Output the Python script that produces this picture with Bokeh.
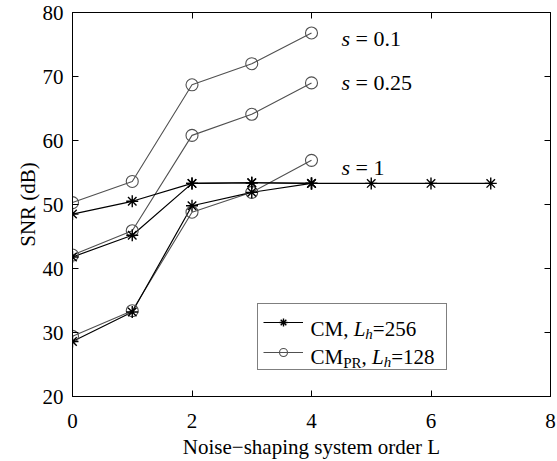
from bokeh.plotting import figure
from bokeh.models import (Range1d, FixedTicker, LinearAxis, Label, Legend, LegendItem)
from bokeh.embed import file_html
from bokeh.resources import INLINE

# ---------------- data ----------------
L_cm_long = [0, 1, 2, 3, 4, 5, 6, 7]
L_short = [0, 1, 2, 3, 4]
cm_s01 = [48.5, 50.5, 53.3, 53.4, 53.3, 53.3, 53.3, 53.3]
cm_s025 = [41.8, 45.2, 53.3, 53.4, 53.3]
cm_s1 = [28.6, 33.2, 49.8, 51.9, 53.3]
pr_s01 = [50.3, 53.6, 68.7, 72.0, 76.8]
pr_s025 = [42.1, 45.9, 60.8, 64.1, 69.0]
pr_s1 = [29.4, 33.4, 48.8, 51.9, 56.9]
x_ticks = [0, 2, 4, 6, 8]
y_ticks = [20, 30, 40, 50, 60, 70, 80]
x_title = "Noise\u2212shaping system order L"
y_title = "SNR (dB)"

FONT = "Liberation Serif"
NB = "\u00a0"
W, H = 557, 461
FL, FR, FT, FB = 72, 550, 12, 396  # frame edges in px
X0, X1, Y0, Y1 = 0, 8, 20, 80

p = figure(width=W, height=H, output_backend="svg", toolbar_location=None,
           x_range=Range1d(X0, X1), y_range=Range1d(Y0, Y1),
           min_border_left=FL, min_border_right=W - FR,
           min_border_top=FT, min_border_bottom=H - FB,
           x_axis_type=None, y_axis_type=None)
p.grid.visible = False
p.outline_line_color = "black"
p.outline_line_width = 1
p.background_fill_color = "white"
p.border_fill_color = "white"


def style_axis(ax, show_labels, standoff):
    ax.axis_line_color = "black"
    ax.axis_line_width = 1
    ax.major_tick_in = 6
    ax.major_tick_out = 0
    ax.minor_tick_line_color = None
    ax.major_tick_line_color = "black"
    ax.major_label_text_font = FONT
    if show_labels:
        ax.major_label_text_color = "black"
        ax.major_label_text_font_size = "21px"
        ax.major_label_standoff = standoff
    else:
        ax.major_label_text_color = None
        ax.major_label_text_font_size = "1px"
        ax.major_label_standoff = 0
    ax.axis_label_text_font = FONT
    ax.axis_label_text_font_size = "21px"
    ax.axis_label_text_font_style = "normal"
    ax.axis_label_text_color = "black"


xb = LinearAxis(ticker=FixedTicker(ticks=x_ticks), axis_label=x_title)
style_axis(xb, True, 17)
xb.axis_label_standoff = 4
p.add_layout(xb, "below")
yl = LinearAxis(ticker=FixedTicker(ticks=y_ticks), axis_label=y_title)
style_axis(yl, True, 9)
yl.axis_label_standoff = 0
p.add_layout(yl, "left")
xt = LinearAxis(ticker=FixedTicker(ticks=x_ticks))
style_axis(xt, False, 0)
p.add_layout(xt, "above")
yr = LinearAxis(ticker=FixedTicker(ticks=y_ticks))
style_axis(yr, False, 0)
p.add_layout(yr, "right")

STAR_C = "black"
CIRC_C = "#505050"

pr_lines, pr_marks = [], []
for ys in (pr_s01, pr_s025, pr_s1):
    pr_lines.append(p.line(L_short, ys, line_color=CIRC_C, line_width=1.1))
cm_lines, cm_marks = [], []
for xs, ys in ((L_cm_long, cm_s01), (L_short, cm_s025), (L_short, cm_s1)):
    cm_lines.append(p.line(xs, ys, line_color=STAR_C, line_width=1.2))
for ys in (pr_s01, pr_s025, pr_s1):
    pr_marks.append(p.scatter(L_short, ys, marker="circle", size=12,
                              line_color=CIRC_C, fill_alpha=0, line_width=1.1))
for xs, ys in ((L_cm_long, cm_s01), (L_short, cm_s025), (L_short, cm_s1)):
    cm_marks.append(p.scatter(xs, ys, marker="asterisk", size=12,
                              line_color=STAR_C, line_width=1.4))

legend = Legend(items=[LegendItem(label=NB, renderers=[cm_lines[0], cm_marks[0]]),
                       LegendItem(label=NB, renderers=[pr_lines[0], pr_marks[0]])],
                location=(257 - FL, FB - 370), glyph_width=40, glyph_height=20,
                label_width=130, label_height=25, spacing=5, padding=5, margin=0,
                label_standoff=8, border_line_color="black", border_line_width=1,
                background_fill_alpha=0,
                label_text_font=FONT, label_text_font_size="19px")
p.add_layout(legend, "center")

# ---------- rich text helpers ----------
REG = {' ': 250, NB: 250, ',': 250, '.': 250, '=': 564, 'C': 667, 'M': 889, 'P': 556,
       'R': 667, 'N': 722, 'o': 500, 'i': 278, 's': 389, 'e': 444, '\u2212': 564,
       'h': 500, 'a': 444, 'p': 500, 'n': 500, 'g': 500, 'y': 500, 't': 278,
       'm': 778, 'r': 333, 'd': 500, 'L': 611}
ITA = {'L': 556, 'h': 500, 's': 389}


def tw(text, italic, size):
    tab = ITA if italic else REG
    return sum(tab.get(c, REG.get(c, 500)) for c in text) * size / 1000.0


def dx(px):
    return X0 + (px - FL) / (FR - FL) * (X1 - X0)


def dy(py):
    return Y0 + (FB - py) / (FB - FT) * (Y1 - Y0)


def place(runs, x_px, base_px):
    for t, it, s, off in runs:
        p.add_layout(Label(x=dx(x_px), y=dy(base_px + off), text=t,
                           text_font=FONT, text_font_size=f"{s}px",
                           text_font_style="italic" if it else "normal",
                           text_color="black", text_baseline="alphabetic",
                           text_align="left"))
        x_px += tw(t, it, s)


# curve annotations
place([("s", True, 22, 0), (NB + "=" + NB + "0.1", False, 22, 0)], 341, 38)
place([("s", True, 22, 0), (NB + "=" + NB + "0.25", False, 22, 0)], 341, 82)
place([("s", True, 22, 0), (NB + "=" + NB + "1", False, 22, 0)], 341, 167)
# legend texts
place([("CM," + NB, False, 21, 0), ("L", True, 21, 0), ("h", True, 15, 5),
       ("=256", False, 21, 0)], 310, 328)
place([("CM", False, 21, 0), ("PR", False, 15, 6), ("," + NB, False, 21, 0),
       ("L", True, 21, 0), ("h", True, 15, 5), ("=128", False, 21, 0)], 310, 356)

open("out.html", "w").write(file_html(p, INLINE))
